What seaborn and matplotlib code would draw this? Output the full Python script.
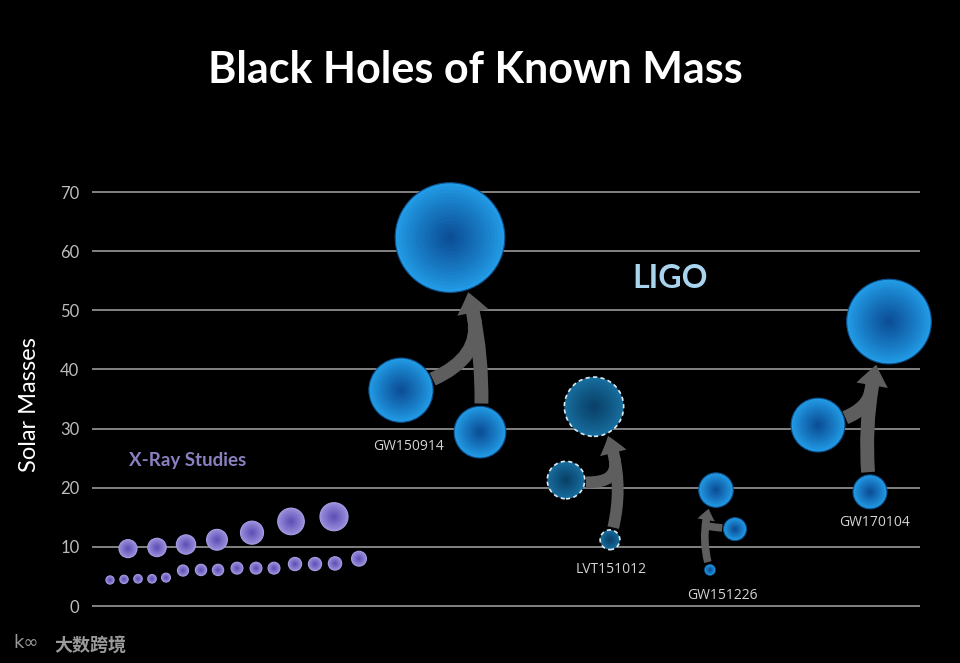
import numpy as np
import pandas as pd
import matplotlib
matplotlib.use("Agg")
import matplotlib.pyplot as plt
import seaborn as sns
from matplotlib.patches import FancyArrowPatch
from matplotlib.colors import to_rgb

# ---------------- data (solar masses) ----------------
xray_small_mass = [4.4, 4.5, 4.6, 4.6, 4.8, 6.0, 6.1, 6.1, 6.4, 6.4, 6.4, 7.1, 7.1, 7.2, 8.0]
xray_large_mass = [9.7, 9.9, 10.4, 11.2, 12.4, 14.3, 15.1]
events = ["GW150914", "LVT151012", "GW151226", "GW170104"]
primary_mass = [36.5, 21.3, 13.0, 30.6]
secondary_mass = [29.4, 11.2, 6.1, 19.3]
final_mass = [62.3, 33.7, 19.6, 48.1]
candidate = [False, True, False, False]
yticks = [0, 10, 20, 30, 40, 50, 60, 70]

# ---------------- layout (horizontal placement / styling, not data) ----------------
xray_small_x = [110, 124, 138, 152, 166, 183, 201, 218, 237, 256, 274, 295, 315, 335, 359]
xray_large_x = [128, 157, 186, 217, 252, 291, 334]
primary_x = [401, 566, 735, 818]
secondary_x = [480, 610, 710, 870]
final_x = [450, 594, 716, 889]
label_x = [408, 611, 722, 875]
label_y = [26.9, 6.1, 1.7, 14.2]
depart_angle = [15, -10, 175, 10]          # direction the primary's arrow leaves
rad_secondary = [0.12, 0.22, -0.2, -0.12]
arrow_scale = [10, 8.5, 5.5, 10]
HEAD_LEN, HEAD_W = 1.5, 2.3

DPI = 100
sns.set_theme(style="dark")
plt.rcParams['font.family'] = ['Lato', 'DejaVu Sans']

fig = plt.figure(figsize=(9.6, 6.63), dpi=DPI, facecolor="black")
ax = fig.add_axes([92 / 960, 0.0146, 828 / 960, 0.7671])
ax.set_facecolor("black")
ax.set_xlim(92, 920)
ax.set_ylim(-8, 78)
for s in ax.spines.values():
    s.set_visible(False)
ax.set_xticks([])
ax.set_yticks(yticks)
ax.set_yticklabels([str(v) for v in yticks], color="#bdbdbd", fontsize=12)
ax.tick_params(axis="y", length=0, pad=9)
ax.grid(False)
for v in yticks:
    ax.axhline(v, color="#8c8c8c", lw=1.3, zorder=0)

PX_PT = 72.0 / DPI  # points per pixel


def diam_pt(mass, k):
    return 2 * k * np.asarray(mass, dtype=float) * PX_PT


def gradient_bubbles(x, mass, k, outer, inner, rim=None, n=16, z=3):
    d = diam_pt(mass, k)
    o = np.array(to_rgb(outer))
    c = np.array(to_rgb(inner))
    df = pd.DataFrame({"x": x, "y": mass})
    for i in range(n):
        f = 1 - i / n
        t = (1 - f) ** 0.9
        col = tuple(o * (1 - t) + c * t)
        if i == 0 and rim is not None:
            kw = dict(edgecolor=rim, linewidth=0.8)
        else:
            kw = dict(linewidth=0)
        sns.scatterplot(data=df, x="x", y="y", s=(d * f) ** 2, color=col,
                        ax=ax, legend=False, zorder=z + i * 0.01, clip_on=False, **kw)
    return d


# X-ray studies bubbles
gradient_bubbles(xray_small_x, xray_small_mass, 0.93, "#9a90dc", "#5a4cb4", rim="#a89ee6")
gradient_bubbles(xray_large_x, xray_large_mass, 0.93, "#9a90dc", "#5a4cb4", rim="#a89ee6")

# LIGO events
K = 0.88
conf = [i for i in range(len(events)) if not candidate[i]]
cand = [i for i in range(len(events)) if candidate[i]]

for group, outer, inner, rim in [(conf, "#229be6", "#0a4a92", "#0d4f8c"),
                                 (cand, "#176e9e", "#083e66", None)]:
    xs = [primary_x[i] for i in group] + [secondary_x[i] for i in group] + [final_x[i] for i in group]
    ms = [primary_mass[i] for i in group] + [secondary_mass[i] for i in group] + [final_mass[i] for i in group]
    gradient_bubbles(xs, ms, K, outer, inner, rim=rim)
    if rim is None:
        d = diam_pt(ms, K)
        ax.scatter(xs, ms, s=d ** 2, facecolors="none", edgecolors="#dfe9f2",
                   linewidths=1.2, linestyle=(0, (2.5, 2)), zorder=4, clip_on=False)

ax.set_xlabel("")
ax.set_ylabel("")

# merger arrows
ARROW = "#5e5e5e"
to_disp = ax.transData
to_data = ax.transData.inverted()
pt2px = DPI / 72.0
for i in range(len(events)):
    rP = diam_pt(primary_mass[i], K) / 2
    rS = diam_pt(secondary_mass[i], K) / 2
    rF = diam_pt(final_mass[i], K) / 2
    ms_ = arrow_scale[i]
    # secondary -> final arrow (carries the head)
    a2 = FancyArrowPatch((secondary_x[i], secondary_mass[i]), (final_x[i], final_mass[i]),
                         arrowstyle=f"simple,head_length={HEAD_LEN},head_width={HEAD_W},tail_width=1.0",
                         connectionstyle=f"arc3,rad={rad_secondary[i]}",
                         mutation_scale=ms_, color=ARROW, lw=0, shrinkA=rS + 2,
                         shrinkB=rF + 2, zorder=2.6)
    ax.add_patch(a2)
    # find the merge point on that curve (just below the head), in display space
    S = np.array(to_disp.transform((secondary_x[i], secondary_mass[i])))
    F = np.array(to_disp.transform((final_x[i], final_mass[i])))
    dxy = F - S
    C = (S + F) / 2 + rad_secondary[i] * np.array([dxy[1], -dxy[0]])
    target = (rF + 2 + HEAD_LEN * ms_ + 4) * pt2px
    ts = np.linspace(0, 1, 400)
    pts = ((1 - ts) ** 2)[:, None] * S + (2 * ts * (1 - ts))[:, None] * C + (ts ** 2)[:, None] * F
    dist = np.hypot(*(pts - F).T)
    j = np.argmin(np.abs(dist - target))
    M = pts[j]
    tan = 2 * (1 - ts[j]) * (C - S) + 2 * ts[j] * (F - C)
    angB = np.degrees(np.arctan2(tan[1], tan[0]))
    Md = to_data.transform(M)
    a1 = FancyArrowPatch((primary_x[i], primary_mass[i]), tuple(Md),
                         arrowstyle="-",
                         connectionstyle=f"angle3,angleA={depart_angle[i]},angleB={angB:.2f}",
                         linewidth=ms_, color=ARROW, shrinkA=rP + 1, shrinkB=0, zorder=2.5)
    a1.set_capstyle("butt")
    ax.add_patch(a1)
    ax.text(label_x[i], label_y[i], events[i], color="#d4d4d4", fontsize=10,
            ha="center", va="center", family=["Open Sans", "DejaVu Sans"], zorder=6)

ax.text(670, 55.3, "LIGO", color="#a8d4ee", fontsize=23, fontweight="bold",
        ha="center", va="center", zorder=6)
ax.text(188, 24.6, "X-Ray Studies", color="#8a80c0", fontsize=13.5, fontweight="bold",
        ha="center", va="center", zorder=6)

fig.text(475 / 960, 1 - 70 / 663, "Black Holes of Known Mass", color="white",
         fontsize=31, fontweight="bold", ha="center", va="center")
fig.text(30 / 960, 1 - 405 / 663, "Solar Masses", color="white", fontsize=17,
         rotation=90, ha="center", va="center")
fig.text(90 / 960, 1 - 645 / 663, "大数跨境", color="#9a9a9a", fontsize=13, fontweight="bold",
         ha="center", va="center", family=["Noto Sans CJK SC", "DejaVu Sans"])
fig.text(26 / 960, 1 - 643 / 663, "k∞", color="#9a9a9a", fontsize=13,
         ha="center", va="center", family=["DejaVu Sans"])

fig.savefig("out.png", dpi=DPI, facecolor="black")
